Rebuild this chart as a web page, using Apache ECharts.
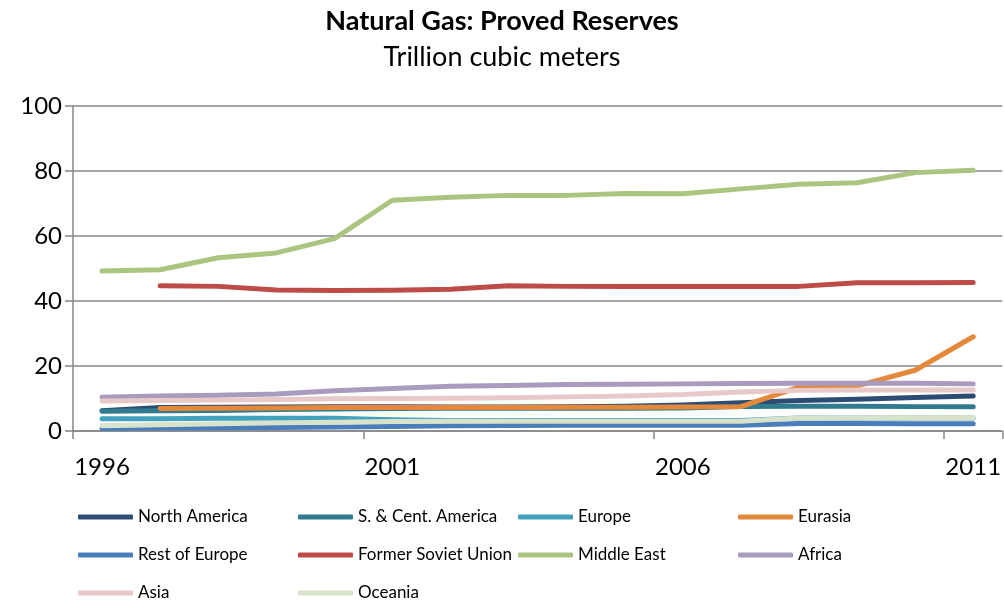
<!DOCTYPE html>
<html>
<head>
<meta charset="utf-8">
<script src="https://cdn.jsdelivr.net/npm/echarts@6/dist/echarts.min.js"></script>
<style>
  html, body { margin: 0; padding: 0; background: #fff; }
  #chart { width: 1004px; height: 602px; }
</style>
</head>
<body>
<div id="chart"></div>
<script>
// Proved natural gas reserves by region, trillion cubic meters
const years = ['1996','1997','1998','1999','2000','2001','2002','2003','2004','2005','2006','2007','2008','2009','2010','2011'];

const northAmerica   = [6.2, 7.2, 7.3, 7.4, 7.5, 7.5, 7.4, 7.4, 7.5, 7.6, 8.0, 8.7, 9.4, 9.8, 10.3, 10.8];
const sCentAmerica   = [6.1, 6.2, 6.3, 6.6, 6.8, 6.9, 7.0, 7.0, 7.0, 7.0, 7.1, 7.5, 7.6, 7.6, 7.5, 7.5];
const europe         = [3.8, 3.8, 3.9, 3.9, 3.9, 3.5, 3.2, 3.2, 3.2, 3.2, 3.2, 3.2, 4.0, 4.0, 4.0, 4.0];
const eurasia        = [null, 6.9, 7.0, 7.1, 7.2, 7.2, 7.2, 7.2, 7.3, 7.3, 7.4, 7.5, 13.5, 13.9, 18.7, 29.0];
const restOfEurope   = [0.8, 0.9, 1.0, 1.1, 1.2, 1.4, 1.6, 1.7, 1.8, 1.8, 1.8, 1.8, 2.3, 2.3, 2.2, 2.2];
const formerSoviet   = [null, 44.7, 44.5, 43.4, 43.2, 43.3, 43.6, 44.7, 44.5, 44.5, 44.5, 44.5, 44.5, 45.6, 45.6, 45.7];
const middleEast     = [49.2, 49.6, 53.3, 54.8, 59.2, 71.0, 71.9, 72.5, 72.5, 73.1, 73.0, 74.5, 75.9, 76.4, 79.5, 80.2];
const africa         = [10.4, 10.8, 11.0, 11.4, 12.4, 13.1, 13.8, 14.0, 14.3, 14.4, 14.5, 14.6, 14.7, 14.7, 14.7, 14.5];
const asia           = [9.2, 9.4, 9.5, 9.7, 9.9, 10.0, 10.1, 10.2, 10.5, 10.8, 11.2, 12.0, 12.5, 12.6, 12.6, 12.6];
const oceania        = [1.6, 1.9, 2.2, 2.5, 2.7, 2.9, 3.0, 3.0, 3.0, 3.0, 3.0, 3.0, 4.0, 4.1, 4.1, 4.1];

const yTicks = { min: 0, max: 100, interval: 20 };

const seriesDefs = [
  { name: 'North America',        data: northAmerica, color: '#2D4C74' },
  { name: 'S. & Cent. America',   data: sCentAmerica, color: '#317B8E' },
  { name: 'Europe',               data: europe,       color: '#42A1BC' },
  { name: 'Eurasia',              data: eurasia,      color: '#E4893B' },
  { name: 'Rest of Europe',       data: restOfEurope, color: '#4A7EBB' },
  { name: 'Former Soviet Union',  data: formerSoviet, color: '#BD4B48' },
  { name: 'Middle East',          data: middleEast,   color: '#AAC57F' },
  { name: 'Africa',               data: africa,       color: '#A99BBE' },
  { name: 'Asia',                 data: asia,         color: '#E7C9C9' },
  { name: 'Oceania',              data: oceania,      color: '#D9E3CB' }
];

const FONT = 'Lato, "Open Sans", sans-serif';
const AXIS_GREY = '#878787';

// Legend laid out as a 4-column grid, filled row by row in series order
const LEGEND_COLS = 4, LEGEND_LEFT = 78, LEGEND_COL_W = 220, LEGEND_ROW0 = 517, LEGEND_ROW_H = 38, LEGEND_BOX_H = 20;
const legends = seriesDefs.map((s, i) => ({
  orient: 'horizontal',
  left: LEGEND_LEFT + (i % LEGEND_COLS) * LEGEND_COL_W,
  top: LEGEND_ROW0 + Math.floor(i / LEGEND_COLS) * LEGEND_ROW_H - LEGEND_BOX_H / 2,
  padding: 0,
  itemWidth: 55,
  itemHeight: 5,
  icon: 'roundRect',
  selectedMode: false,
  data: [s.name],
  textStyle: { fontFamily: FONT, fontSize: 17, color: '#000', lineHeight: LEGEND_BOX_H }
}));

const chart = echarts.init(document.getElementById('chart'), null, { renderer: 'canvas' });

chart.setOption({
  animation: false,
  backgroundColor: '#ffffff',
  title: {
    text: 'Natural Gas: Proved Reserves',
    subtext: 'Trillion cubic meters',
    left: 'center',
    top: 3,
    itemGap: 9,
    textStyle: { fontFamily: FONT, fontSize: 27, fontWeight: 'bold', color: '#000' },
    subtextStyle: { fontFamily: FONT, fontSize: 27, color: '#000' }
  },
  legend: legends,
  grid: { left: 73, right: 0, top: 106, bottom: 171, containLabel: false },
  xAxis: {
    type: 'category',
    data: years,
    boundaryGap: true,
    axisLine: { lineStyle: { color: AXIS_GREY, width: 1.5 } },
    axisTick: { show: true, interval: 4, length: 8, lineStyle: { color: AXIS_GREY, width: 1.5 } },
    axisLabel: { interval: 4, margin: 24, fontFamily: FONT, fontSize: 24, color: '#000' },
    splitLine: { show: false }
  },
  yAxis: {
    type: 'value',
    min: yTicks.min,
    max: yTicks.max,
    interval: yTicks.interval,
    axisLine: { show: true, lineStyle: { color: AXIS_GREY, width: 1.5 } },
    axisTick: { show: true, length: 8, lineStyle: { color: AXIS_GREY, width: 1.5 } },
    axisLabel: { margin: 11, fontFamily: FONT, fontSize: 24, color: '#000' },
    splitLine: { show: true, lineStyle: { color: AXIS_GREY, width: 1.5 } }
  },
  series: seriesDefs.map(s => ({
    name: s.name,
    type: 'line',
    data: s.data,
    color: s.color,
    showSymbol: false,
    symbol: 'none',
    connectNulls: false,
    lineStyle: { width: 5, color: s.color, cap: 'round', join: 'round' },
    emphasis: { disabled: true }
  }))
});
</script>
</body>
</html>
